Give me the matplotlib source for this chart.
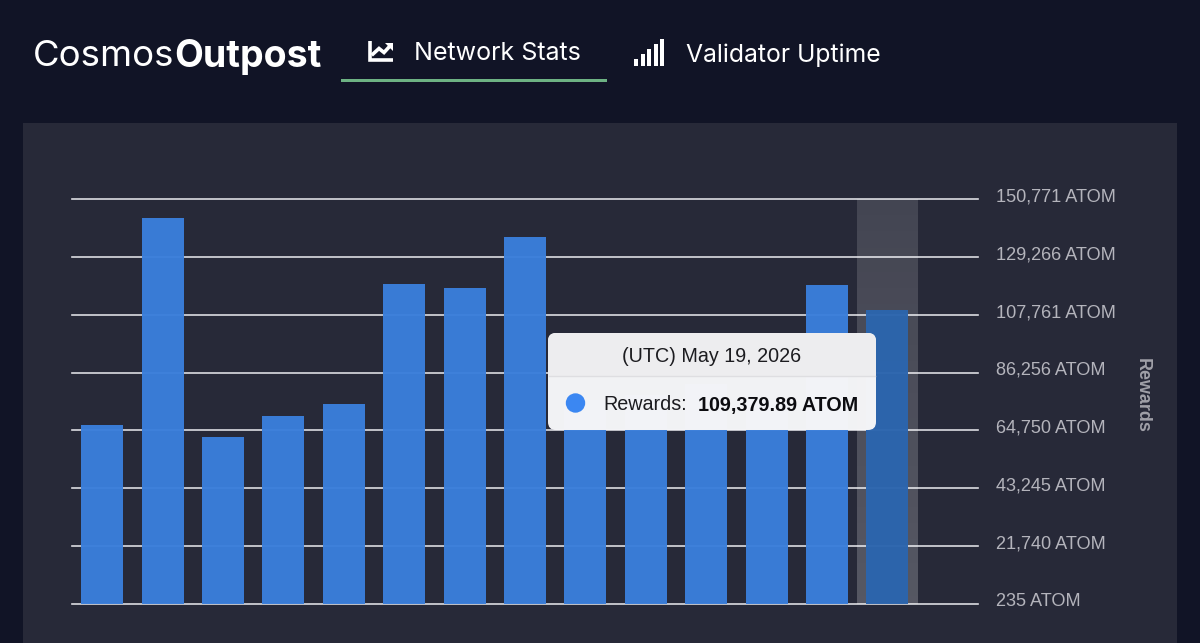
import matplotlib
matplotlib.use("Agg")
import matplotlib.pyplot as plt
import numpy as np
from matplotlib.patches import FancyBboxPatch, Rectangle, Circle, Polygon
from matplotlib.transforms import ScaledTranslation

rewards = [66770, 143710, 62310, 70115, 74575, 119180, 117690, 136650,
           76000, 78000, 82000, 76000, 118810, 109379.89]
tick_values = [235, 21740, 43245, 64750, 86256, 107761, 129266, 150771]
tick_labels = ["235 ATOM", "21,740 ATOM", "43,245 ATOM", "64,750 ATOM",
               "86,256 ATOM", "107,761 ATOM", "129,266 ATOM", "150,771 ATOM"]
active_index = 13
tooltip_date = "(UTC) May 19, 2026"
tooltip_value = "109,379.89 ATOM"

BG = "#111426"
PANEL = "#272938"
BAR = "#3a7edb"
BAR_ACTIVE = "#2b65ae"
W, H = 1200, 643

fig = plt.figure(figsize=(12, 6.43), dpi=100, facecolor=BG)

# page furniture, in pixel coordinates
bgax = fig.add_axes([0, 0, 1, 1], zorder=0)
bgax.set_xlim(0, W); bgax.set_ylim(H, 0); bgax.axis("off")
bgax.add_patch(Rectangle((23, 123), 1154, 520, fc=PANEL, ec="none"))

T = "Inter"
bgax.text(33, 57, "Cosmos", family=T, fontsize=26.3, color="white", va="center", ha="left")
bgax.text(174, 57, "Outpost", family=T, fontsize=27, weight="bold", color="white", va="center", ha="left")
bgax.text(414, 54, "Network Stats", family=T, fontsize=18, color="white", va="center", ha="left")
bgax.text(686, 55, "Validator Uptime", family=T, fontsize=17.8, color="white", va="center", ha="left")
bgax.add_patch(Rectangle((341, 78.5), 266, 3.2, fc="#6db283", ec="none"))

# chart-line icon
bgax.plot([369.5, 369.5, 393], [41, 59.5, 59.5], color="white", lw=2.6, solid_joinstyle="miter", solid_capstyle="butt")
bgax.plot([373, 379, 384, 390], [54, 48.5, 52.5, 46], color="white", lw=2.6, solid_joinstyle="miter")
bgax.add_patch(Polygon([[385, 43], [393, 43], [393, 51]], fc="white", ec="none"))
# signal-bars icon
for x0, top in zip([634, 640.5, 647, 653.5, 660], [59, 54, 49, 44, 39]):
    bgax.add_patch(Rectangle((x0, top), 4.3, 65.5 - top, fc="white", ec="none"))

# chart
ax = fig.add_axes([72 / W, (H - 604) / H, 906 / W, 405 / H], zorder=1)
ax.set_facecolor("none")
ax.set_xlim(-0.5, 14.5)
ax.set_ylim(tick_values[0], tick_values[-1])
for s in ax.spines.values():
    s.set_visible(False)

ax.yaxis.tick_right()
ax.set_yticks(tick_values)
ax.set_yticklabels(tick_labels, family="Liberation Sans", fontsize=13.1, color="#b4b4bc")
ax.tick_params(axis="y", length=0, pad=13)
ax.tick_params(axis="x", bottom=False, labelbottom=False)
off = ScaledTranslation(0, 3 / 72, fig.dpi_scale_trans)
for lab in ax.get_yticklabels():
    lab.set_transform(lab.get_transform() + off)
ax.set_axisbelow(True)
ax.grid(axis="y", color="#dcdce2", lw=1.2, clip_on=False)
ax.grid(axis="x", visible=False)

band = np.linspace(0, 1, 50).reshape(-1, 1)
top_c, bot_c = 0.135, 0.22
ax.imshow(np.dstack([np.ones_like(band)] * 3 + [top_c + (bot_c - top_c) * band]),
          extent=[active_index - 0.5, active_index + 0.5, tick_values[0], tick_values[-1]],
          aspect="auto", origin="upper", zorder=1.5)
ax.set_xlim(-0.5, 14.5)
ax.set_ylim(tick_values[0], tick_values[-1])

x = np.arange(len(rewards))
colors = [BAR_ACTIVE if i == active_index else BAR for i in x]
ax.bar(x, np.array(rewards) - tick_values[0], bottom=tick_values[0], width=0.695,
       color=colors, alpha=0.97, zorder=2)

# axis title and tooltip overlay
top = fig.add_axes([0, 0, 1, 1], zorder=2)
top.set_xlim(0, W); top.set_ylim(H, 0); top.axis("off"); top.patch.set_alpha(0)
top.text(1142, 395, "Rewards", family="Liberation Sans", weight="bold", fontsize=12.9,
         color="#a0a0a8", rotation=270, ha="center", va="center")

tip = FancyBboxPatch((548, 333), 328, 97, boxstyle="round,pad=0,rounding_size=8",
                     fc="#f6f6f8", ec="none", alpha=0.985)
top.add_patch(tip)
head = Rectangle((548, 333), 328, 43, fc="#ededef", ec="none")
top.add_patch(head)
head.set_clip_path(tip)
top.plot([549, 875], [376, 376], color="#dedee1", lw=1)
top.text(712, 357, tooltip_date, family="Liberation Sans", fontsize=14.2, color="#1c1c20", ha="center", va="center")
top.add_patch(Circle((575.5, 403), 9.7, fc="#3b87f2", ec="none"))
top.text(603, 405, "Rewards:", family="Liberation Sans", fontsize=14.2, color="#1c1c20", ha="left", va="center")
top.text(698.5, 405, tooltip_value, family="Liberation Sans", weight="bold", fontsize=14.2, color="#0c0c10", ha="left", va="center")

fig.savefig("out.png", dpi=100, facecolor=BG)
